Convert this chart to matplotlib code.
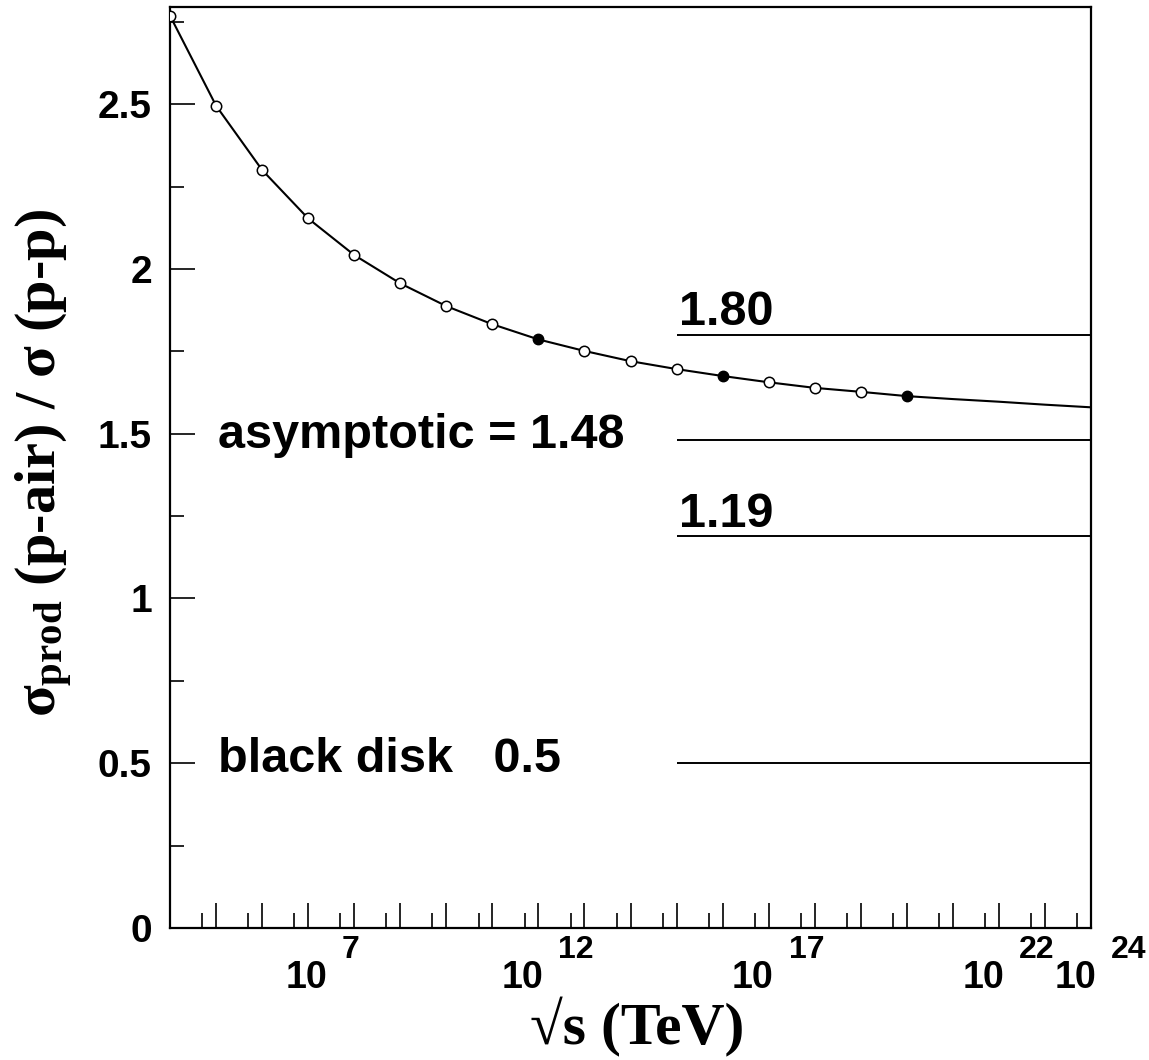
"""
Razao sigma_prod(p-air)/sigma(p-p) em funcao de sqrt(s), eixo log
"""

import matplotlib
matplotlib.use('Agg')
import matplotlib.pyplot as plt

plt.rcParams['mathtext.fontset'] = 'custom'
plt.rcParams['mathtext.rm'] = 'Liberation Serif:bold'
plt.rcParams['mathtext.it'] = 'Liberation Serif:bold'
plt.rcParams['mathtext.bf'] = 'Liberation Serif:bold'

# pontos (expoente de sqrt(s) em TeV, razao)
expoentes = [4, 5, 6, 7, 8, 9, 10, 11, 12, 13, 14, 15, 16, 17, 18, 19, 20]
razao = [2.768, 2.495, 2.300, 2.153, 2.042, 1.956, 1.887, 1.832, 1.786,
         1.751, 1.720, 1.696, 1.675, 1.656, 1.639, 1.627, 1.614]
cheios = [12, 16, 20]

# continuacao da curva ate 10^24
exp_curva = expoentes + [21, 22, 23, 24]
razao_curva = razao + [1.605, 1.597, 1.588, 1.580]

# linhas de referencia
niveis = [1.80, 1.48, 1.19, 0.5]
rotulos = ['1.80', 'asymptotic = 1.48', '1.19', 'black disk   0.5']

ticks_y = [0, 0.5, 1, 1.5, 2, 2.5]
rot_y = ['0', '0.5', '1', '1.5', '2', '2.5']
exp_rotulos = [7, 12, 17, 22, 24]

fig = plt.figure(figsize=(11.49, 10.6), dpi=100)
ax = fig.add_axes([0.148, 0.1245, 0.8015, 0.869])

xs = [10.0 ** e for e in exp_curva]
ax.plot(xs, razao_curva, color='black', lw=1.5, zorder=2)

xa = [10.0 ** e for e in expoentes if e not in cheios]
ya = [r for e, r in zip(expoentes, razao) if e not in cheios]
xc = [10.0 ** e for e in expoentes if e in cheios]
yc = [r for e, r in zip(expoentes, razao) if e in cheios]
ax.plot(xa, ya, 'o', ms=7.5, mfc='white', mec='black', mew=1.1, zorder=3)
ax.plot(xc, yc, 'o', ms=7.5, mfc='black', mec='black', zorder=3)

for n in niveis:
    ax.hlines(n, 1e15, 1e24, color='black', lw=1.4)

fonte = dict(family='Liberation Sans', weight='bold', size=35)
ax.text(1.15e15, 1.829, rotulos[0], va='baseline', **fonte)
ax.text(1.1e5, 1.456, rotulos[1], va='baseline', **fonte)
ax.text(1.15e15, 1.2175, rotulos[2], va='baseline', **fonte)
ax.text(1.1e5, 0.474, rotulos[3], va='baseline', **fonte)

ax.set_xscale('log')
ax.set_xlim(1e4, 1e24)
ax.set_ylim(0, 2.795)

# ticks x: maiores em cada decada, menores em 5x10^n
ax.set_xticks([10.0 ** e for e in range(5, 24)])
ax.set_xticks([5 * 10.0 ** e for e in range(4, 24)], minor=True)
ax.set_xticklabels([])
ax.set_xticklabels([], minor=True)
ax.tick_params(axis='x', which='major', direction='in', length=18, width=1.2)
ax.tick_params(axis='x', which='minor', direction='in', length=11, width=1.2)

ax.set_yticks(ticks_y)
ax.set_yticks([0.25, 0.75, 1.25, 1.75, 2.25, 2.75], minor=True)
ax.set_yticklabels(rot_y, family='Liberation Sans', weight='bold', size=28)
ax.tick_params(axis='y', which='major', direction='in', length=18, width=1.2, pad=13)
ax.tick_params(axis='y', which='minor', direction='in', length=10, width=1.2)

for s in ax.spines.values():
    s.set_linewidth(1.6)

# rotulos 10^n no estilo do ROOT
tr = ax.get_xaxis_transform()
for e in exp_rotulos:
    d = 10 if len(str(e)) == 1 else 0
    ax.annotate('10', xy=(10.0 ** e, 0), xycoords=tr, xytext=(3.6 + d, -43.2),
                textcoords='offset points', ha='right', va='baseline',
                family='Liberation Sans', weight='bold', size=27, annotation_clip=False)
    ax.annotate(str(e), xy=(10.0 ** e, 0), xycoords=tr, xytext=(14.4 + d, -21.6),
                textcoords='offset points', ha='left', va='baseline',
                family='Liberation Sans', weight='bold', size=23, annotation_clip=False)

ax.set_xlabel('√s (TeV)', family='Liberation Serif', weight='bold', size=43)
ax.xaxis.set_label_coords(0.507, -0.075)
ax.set_ylabel(r'$\sigma_{\mathrm{prod}}$ (p-air) / $\sigma$ (p-p)',
              family='Liberation Serif', weight='bold', size=42)
ax.yaxis.set_label_coords(-0.103, 0.505)

plt.savefig('out.png', dpi=100)
